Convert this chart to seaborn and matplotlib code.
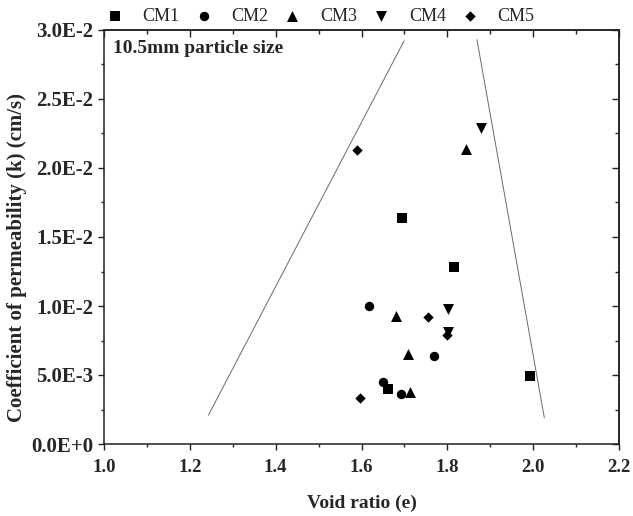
import numpy as np
import pandas as pd
import matplotlib
matplotlib.use("Agg")
import matplotlib.pyplot as plt
from matplotlib.ticker import MultipleLocator, FuncFormatter
import seaborn as sns

# Void ratio (e) and coefficient of permeability k (cm/s) for each mix
cm1_e = [1.694, 1.815, 1.993, 1.661]
cm1_k = [0.0164, 0.0128, 0.0049, 0.0040]
cm2_e = [1.617, 1.769, 1.649, 1.691]
cm2_k = [0.0100, 0.0064, 0.0045, 0.0036]
cm3_e = [1.843, 1.681, 1.708, 1.712]
cm3_k = [0.0214, 0.0093, 0.0065, 0.0038]
cm4_e = [1.878, 1.801, 1.801]
cm4_k = [0.0229, 0.0098, 0.0081]
cm5_e = [1.589, 1.756, 1.800, 1.596]
cm5_k = [0.0213, 0.0092, 0.0079, 0.0033]

series_names = ["CM1", "CM2", "CM3", "CM4", "CM5"]

# Bounding guide lines (e, k)
left_line_e = [1.2435, 1.699]
left_line_k = [0.0021, 0.0292]
right_line_e = [1.869, 2.026]
right_line_k = [0.0293, 0.0019]

x_ticks = [1.0, 1.2, 1.4, 1.6, 1.8, 2.0, 2.2]
y_ticks = [0.0, 0.005, 0.010, 0.015, 0.020, 0.025, 0.030]

frames = []
for name, e, k in zip(series_names,
                      [cm1_e, cm2_e, cm3_e, cm4_e, cm5_e],
                      [cm1_k, cm2_k, cm3_k, cm4_k, cm5_k]):
    frames.append(pd.DataFrame({"e": e, "k": k, "mix": name}))
df = pd.concat(frames, ignore_index=True)

sns.set_theme(style="ticks")
plt.rcParams["font.family"] = ["Liberation Serif", "DejaVu Serif"]

fig = plt.figure(figsize=(6.33, 5.16), dpi=100)
ax = fig.add_axes([104 / 633, 72 / 516, 515 / 633, 414 / 516])

marker_style = {"CM1": ("s", 42), "CM2": ("o", 46), "CM3": ("^", 62),
                "CM4": ("v", 62), "CM5": ("D", 28)}

ax.plot(left_line_e, left_line_k, color="#6a6a6a", lw=0.7, zorder=1)
ax.plot(right_line_e, right_line_k, color="#6a6a6a", lw=0.7, zorder=1)

for name in series_names:
    mk, sz = marker_style[name]
    sns.scatterplot(data=df[df["mix"] == name], x="e", y="k", ax=ax,
                    marker=mk, s=sz, color="black", linewidth=0,
                    label=name, zorder=3)

ax.set_xlim(1.0, 2.2)
ax.set_ylim(0.0, 0.030)
ax.set_xticks(x_ticks)
ax.set_yticks(y_ticks)
ax.xaxis.set_minor_locator(MultipleLocator(0.1))
ax.yaxis.set_minor_locator(MultipleLocator(0.0025))


def sci_label(v, pos=None):
    if abs(v) < 1e-12:
        return "0.0E+0"
    exp = int(np.floor(np.log10(abs(v)) + 1e-9))
    mant = v / 10 ** exp
    return f"{mant:.1f}E{exp:+d}" if exp >= 0 else f"{mant:.1f}E{exp}"


ax.xaxis.set_major_formatter(FuncFormatter(lambda v, p: f"{v:.1f}"))
ax.yaxis.set_major_formatter(FuncFormatter(sci_label))

ax.tick_params(axis="both", which="major", direction="out", length=4.5,
               width=1.0, color="#222222")
ax.tick_params(axis="x", which="major", labelsize=13.5, pad=6)
ax.tick_params(axis="y", which="major", labelsize=15, pad=3)
ax.tick_params(axis="both", which="minor", direction="out", length=2.5,
               width=1.0, color="#222222")
for lab in ax.get_xticklabels() + ax.get_yticklabels():
    lab.set_fontweight("bold")

for sp in ax.spines.values():
    sp.set_linewidth(1.1)
    sp.set_color("#222222")

# Mirrored inward ticks on the top and right edges
top = ax.secondary_xaxis("top")
top.set_xticks(x_ticks)
top.xaxis.set_minor_locator(MultipleLocator(0.1))
top.tick_params(which="major", direction="in", length=5, width=1.0,
                labeltop=False, color="#222222")
top.tick_params(which="minor", direction="in", length=3, width=1.0,
                color="#222222")
right = ax.secondary_yaxis("right")
right.set_yticks(y_ticks)
right.yaxis.set_minor_locator(MultipleLocator(0.0025))
right.tick_params(which="major", direction="in", length=5, width=1.0,
                  labelright=False, color="#222222")
right.tick_params(which="minor", direction="in", length=3, width=1.0,
                  color="#222222")
for s in (top, right):
    for sp in s.spines.values():
        sp.set_linewidth(1.1)
        sp.set_color("#222222")

ax.set_xlabel("Void ratio (e)", fontsize=14, fontweight="bold", labelpad=14)
ax.set_ylabel("Coefficient of permeability (k) (cm/s)", fontsize=15,
              fontweight="bold")
ax.yaxis.set_label_coords(-0.15, 0.45)

ax.text(0.018, 0.955, "10.5mm particle size", transform=ax.transAxes,
        fontsize=14, fontweight="bold", ha="left", va="center")

ax.legend(ncol=5, loc="center left", bbox_to_anchor=(0.004, 1.033),
          frameon=False, fontsize=13, handlelength=1.0,
          handletextpad=1.03, columnspacing=0.83, borderpad=0,
          borderaxespad=0)

fig.savefig("out.png", dpi=100)
